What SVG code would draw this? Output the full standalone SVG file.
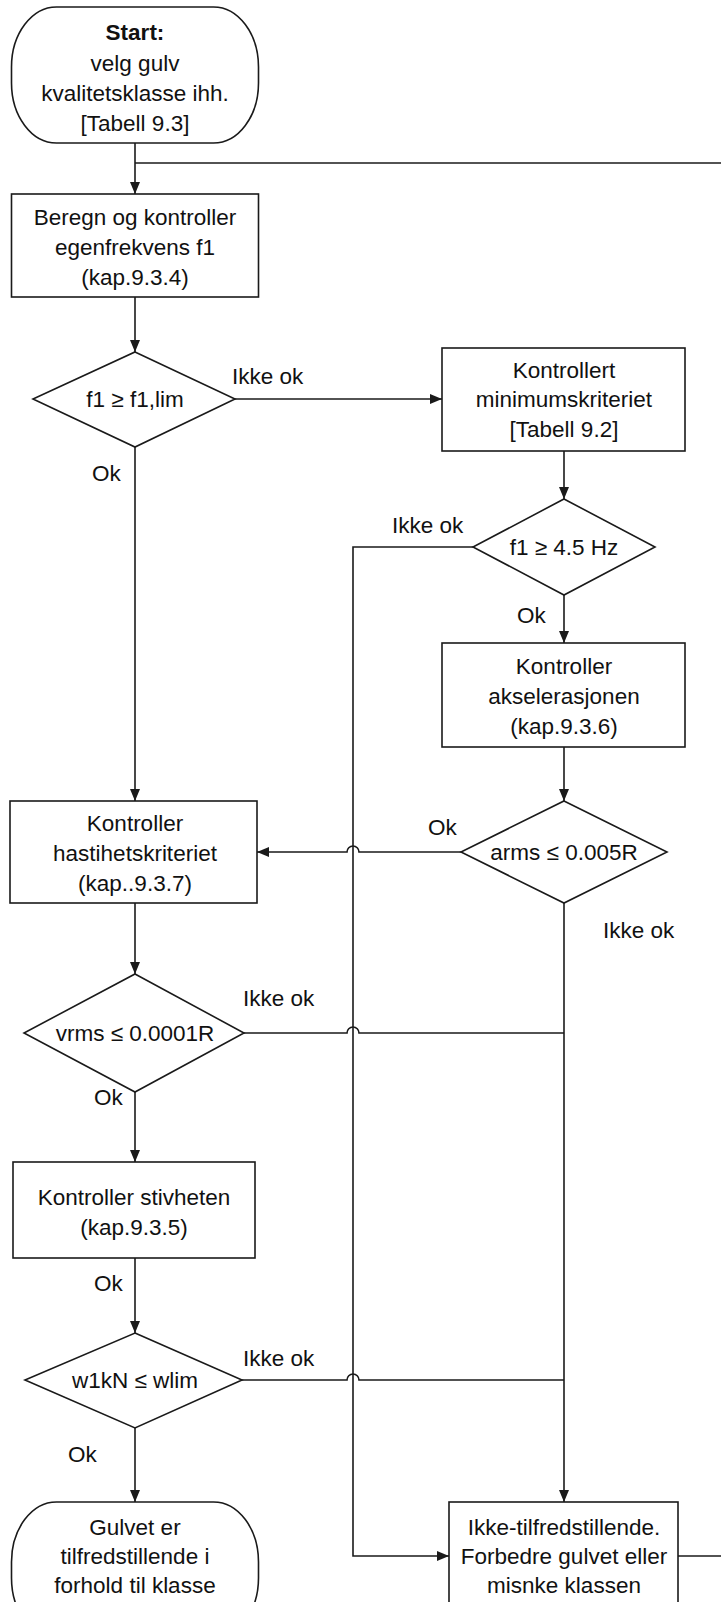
<svg xmlns="http://www.w3.org/2000/svg" width="721" height="1602" viewBox="0 0 721 1602">
<style>
.n{fill:#fff;stroke:#1a1a1a;stroke-width:1.6}
.c{fill:none;stroke:#1a1a1a;stroke-width:1.6}
text{font-family:"Liberation Sans",Arial,sans-serif;font-size:22.5px;fill:#111;text-anchor:middle}
.b{font-weight:bold}
.l{text-anchor:start}
</style>
<defs>
<marker id="ah" markerUnits="userSpaceOnUse" markerWidth="12" markerHeight="10" refX="12" refY="5" orient="auto">
<path d="M0,0 L12,5 L0,10 z" fill="#1a1a1a"/>
</marker>
</defs>
<rect width="721" height="1602" fill="#fff"/>
<g id="connectors">
<path class="c" d="M135,143 V194" marker-end="url(#ah)"/>
<path class="c" d="M721,163 H135"/>
<path class="c" d="M135,297 V352" marker-end="url(#ah)"/>
<path class="c" d="M235,399 H442" marker-end="url(#ah)"/>
<path class="c" d="M135,447 V801" marker-end="url(#ah)"/>
<path class="c" d="M564,451 V499" marker-end="url(#ah)"/>
<path class="c" d="M473,547 H353 V1556 H449" marker-end="url(#ah)"/>
<path class="c" d="M564,595 V643" marker-end="url(#ah)"/>
<path class="c" d="M564,747 V801" marker-end="url(#ah)"/>
<path class="c" d="M461,852 H359 A6,6 0 0 0 347,852 H257" marker-end="url(#ah)"/>
<path class="c" d="M564,903 V1502" marker-end="url(#ah)"/>
<path class="c" d="M135,903 V974" marker-end="url(#ah)"/>
<path class="c" d="M244,1033 H347 A6,6 0 0 1 359,1033 H564"/>
<path class="c" d="M135,1092 V1162" marker-end="url(#ah)"/>
<path class="c" d="M135,1258 V1333" marker-end="url(#ah)"/>
<path class="c" d="M242,1380 H347 A6,6 0 0 1 359,1380 H564"/>
<path class="c" d="M135,1428 V1502" marker-end="url(#ah)"/>
<path class="c" d="M678,1556 H721"/>
</g>
<g id="labels">
<text class="l" x="232" y="384">Ikke ok</text>
<text class="l" x="92" y="481">Ok</text>
<text class="l" x="392" y="533">Ikke ok</text>
<text class="l" x="517" y="623">Ok</text>
<text class="l" x="428" y="835">Ok</text>
<text class="l" x="603" y="938">Ikke ok</text>
<text class="l" x="243" y="1006">Ikke ok</text>
<text class="l" x="94" y="1105">Ok</text>
<text class="l" x="94" y="1291">Ok</text>
<text class="l" x="243" y="1366">Ikke ok</text>
<text class="l" x="68" y="1462">Ok</text>
</g>
<g id="start">
<rect class="n" x="11.5" y="7" width="247" height="136" rx="45" ry="60"/>
<text x="135" y="40" class="b">Start:</text>
<text x="135" y="71">velg gulv</text>
<text x="135" y="101">kvalitetsklasse ihh.</text>
<text x="135" y="131">[Tabell 9.3]</text>
</g>
<g id="beregn">
<rect class="n" x="11.5" y="194" width="247" height="103"/>
<text x="135" y="225">Beregn og kontroller</text>
<text x="135" y="255">egenfrekvens f1</text>
<text x="135" y="285">(kap.9.3.4)</text>
</g>
<g id="d1">
<path class="n" d="M135,352 L235,399 L135,447 L33,399 Z"/>
<text x="135" y="407">f1 ≥ f1,lim</text>
</g>
<g id="kontrollert">
<rect class="n" x="442" y="348" width="243" height="103"/>
<text x="564" y="378">Kontrollert</text>
<text x="564" y="407">minimumskriteriet</text>
<text x="564" y="437">[Tabell 9.2]</text>
</g>
<g id="d2">
<path class="n" d="M564,499 L655,547 L564,595 L473,547 Z"/>
<text x="564" y="555">f1 ≥ 4.5 Hz</text>
</g>
<g id="akselerasjon">
<rect class="n" x="442" y="643" width="243" height="104"/>
<text x="564" y="674">Kontroller</text>
<text x="564" y="704">akselerasjonen</text>
<text x="564" y="734">(kap.9.3.6)</text>
</g>
<g id="d3">
<path class="n" d="M564,801 L667,852 L564,903 L461,852 Z"/>
<text x="564" y="860">arms ≤ 0.005R</text>
</g>
<g id="hastighet">
<rect class="n" x="10" y="801" width="247" height="102"/>
<text x="135" y="831">Kontroller</text>
<text x="135" y="861">hastihetskriteriet</text>
<text x="135" y="891">(kap..9.3.7)</text>
</g>
<g id="d4">
<path class="n" d="M135,974 L244,1033 L135,1092 L24,1033 Z"/>
<text x="135" y="1041">vrms ≤ 0.0001R</text>
</g>
<g id="stivhet">
<rect class="n" x="13" y="1162" width="242" height="96"/>
<text x="134" y="1205">Kontroller stivheten</text>
<text x="134" y="1235">(kap.9.3.5)</text>
</g>
<g id="d5">
<path class="n" d="M135,1333 L242,1380 L135,1428 L25,1380 Z"/>
<text x="135" y="1388">w1kN ≤ wlim</text>
</g>
<g id="gulvet">
<rect class="n" x="11.5" y="1502" width="247" height="136" rx="45" ry="60"/>
<text x="135" y="1535">Gulvet er</text>
<text x="135" y="1564">tilfredstillende i</text>
<text x="135" y="1593">forhold til klasse</text>
</g>
<g id="ikke">
<rect class="n" x="449" y="1502" width="229" height="106"/>
<text x="564" y="1535">Ikke-tilfredstillende.</text>
<text x="564" y="1564">Forbedre gulvet eller</text>
<text x="564" y="1593">misnke klassen</text>
</g>
</svg>
